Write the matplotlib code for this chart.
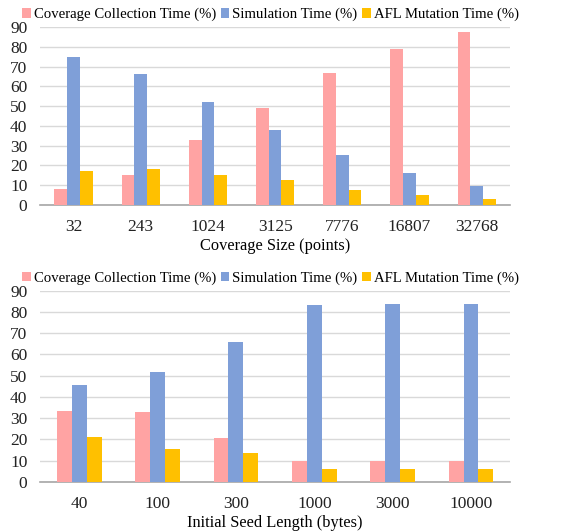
import matplotlib.pyplot as plt
import numpy as np

plt.rcParams['font.family'] = ['Liberation Serif', 'DejaVu Serif']

series_names = ["Coverage Collection Time (%)", "Simulation Time (%)", "AFL Mutation Time (%)"]
colors = ["#FFA3A3", "#7F9FD8", "#FFC000"]

# top panel: coverage size
cov_sizes = ["32", "243", "1024", "3125", "7776", "16807", "32768"]
cov_collect = [8.0, 15.3, 32.7, 49.3, 66.7, 79.0, 87.5]
cov_sim = [74.8, 66.3, 52.0, 38.0, 25.5, 16.0, 9.5]
cov_afl = [17.2, 18.2, 15.3, 12.5, 7.8, 4.8, 3.0]

# bottom panel: initial seed length
seed_lens = ["40", "100", "300", "1000", "3000", "10000"]
seed_collect = [33.3, 32.7, 20.5, 10.1, 10.0, 9.9]
seed_sim = [45.6, 51.8, 66.0, 83.4, 83.6, 83.8]
seed_afl = [21.0, 15.4, 13.5, 6.3, 6.1, 6.1]


def draw_panel(ax, cats, values, xlabel):
    x = np.arange(len(cats))
    w = 0.19
    for i, (vals, col, name) in enumerate(zip(values, colors, series_names)):
        ax.bar(x + (i - 1) * w, vals, w, color=col, label=name, zorder=3)
    ax.set_xlim(-0.5, len(cats) - 0.5)
    ax.set_ylim(0, 90)
    ax.set_yticks(range(0, 91, 10))
    ax.set_xticks(x)
    ax.set_xticklabels(cats)
    ax.tick_params(axis='both', length=0, labelsize=12.5, colors='#222222')
    ax.tick_params(axis='x', pad=10)
    ax.tick_params(axis='y', pad=9)
    ax.grid(axis='y', color='#D9D9D9', linewidth=1, zorder=0)
    for s in ['top', 'right', 'left']:
        ax.spines[s].set_visible(False)
    ax.spines['bottom'].set_color('#A6A6A6')
    ax.spines['bottom'].set_linewidth(1.2)
    ax.set_xlabel(xlabel, fontsize=11.8, labelpad=2)
    ax.legend(loc='lower center', bbox_to_anchor=(0.49, 1.0), ncol=3, frameon=False,
              fontsize=10.6, handlelength=0.6, handleheight=0.6, handletextpad=0.2,
              columnspacing=0.3, borderaxespad=0)


fig = plt.figure(figsize=(5.77, 5.31), dpi=100)
ax1 = fig.add_axes([0.0693, 0.614, 0.815, 0.335])
ax2 = fig.add_axes([0.0693, 0.0923, 0.815, 0.3602])

draw_panel(ax1, cov_sizes, [cov_collect, cov_sim, cov_afl], "Coverage Size (points)")
draw_panel(ax2, seed_lens, [seed_collect, seed_sim, seed_afl], "Initial Seed Length (bytes)")

fig.savefig("out.png", dpi=100)
